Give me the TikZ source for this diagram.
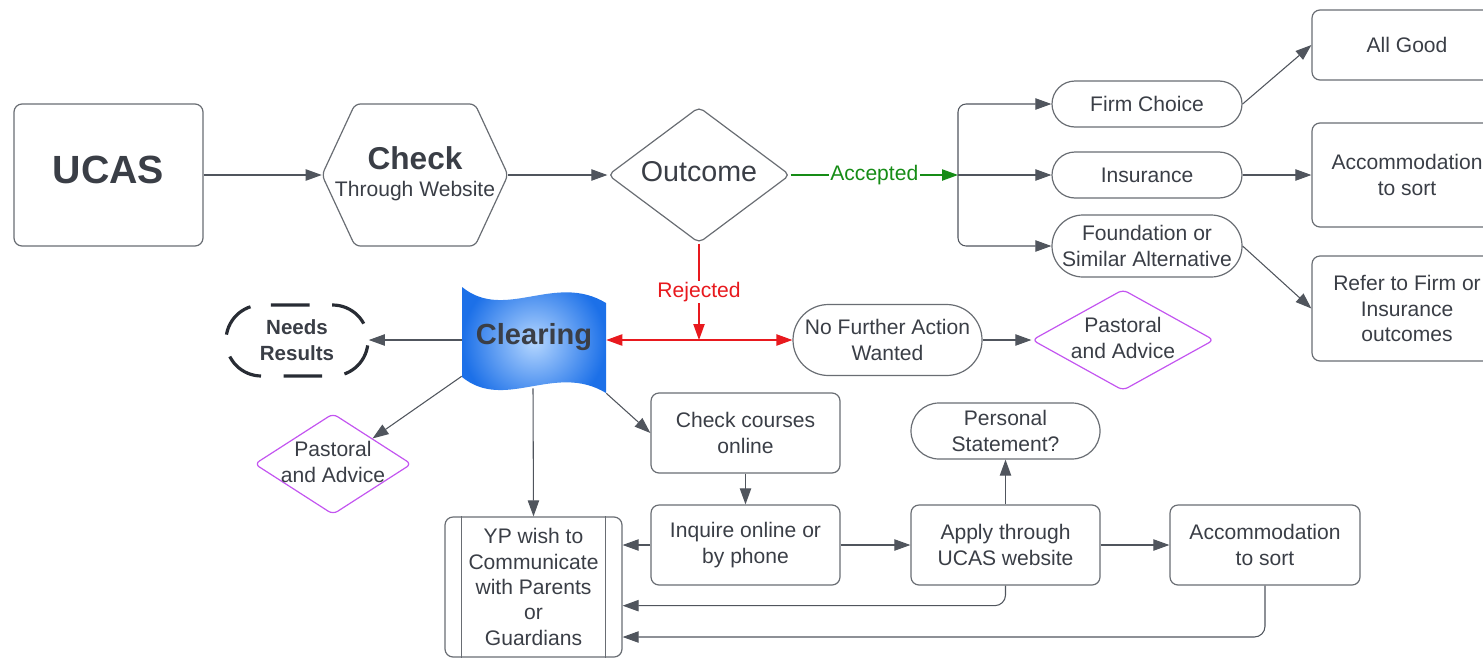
\documentclass[tikz,border=0pt]{standalone}
\usepackage{fontspec}
\setmainfont{Liberation Sans}
\usetikzlibrary{arrows.meta,shapes.geometric,calc}
\definecolor{txt}{RGB}{58,62,70}
\definecolor{ln}{RGB}{80,85,93}
\definecolor{bd}{RGB}{105,109,115}
\definecolor{grn}{RGB}{22,140,22}
\definecolor{rd}{RGB}{232,25,30}
\definecolor{prp}{RGB}{195,85,240}
\definecolor{flagin}{RGB}{180,214,255}
\definecolor{flagout}{RGB}{28,112,232}
\definecolor{dsh}{RGB}{40,44,52}
\begin{document}
\begin{tikzpicture}[x=0.75pt,y=-0.75pt,
  every node/.style={text=txt, align=center, font=\fontsize{15.8}{19}\selectfont},
  box/.style={draw=bd, line width=0.9pt, rounded corners=6pt, inner sep=1pt},
  pill/.style={draw=bd, line width=0.9pt, inner sep=0pt},
  shp/.style={inner sep=0pt},
  dia/.style={diamond, draw=prp, line width=0.9pt, rounded corners=4pt, inner sep=0pt},
  tip/.style={-{Triangle[length=12pt,width=8.5pt]}},
  conn/.style={draw=ln, line width=0.8pt, tip},
  gconn/.style={draw=grn, line width=0.9pt, -{Triangle[length=12pt,width=8.5pt]}},
  rconn/.style={draw=rd, line width=0.9pt, -{Triangle[length=12pt,width=8.5pt]}}
]
\useasboundingbox (0,0) rectangle (1483,657);

% top row
\node[box, minimum width=141.75pt, minimum height=106.5pt] (ucas) at (108.5,175) {};
\node[font=\bfseries\fontsize{29.5}{34}\selectfont] (ucasT) at (108.5,170) {UCAS};

\draw[draw=bd, line width=0.9pt, rounded corners=4pt] (322,175) -- (355,104) -- (475,104) -- (508,175) -- (475,246) -- (355,246) -- cycle;
\node[shp, minimum width=139.5pt, minimum height=106.5pt] (check) at (415,175) {};
\node (checkA) at (415,158) {\bfseries\fontsize{23.7}{27}\selectfont Check};
\node (checkB) at (415,191) {Through Website};

\node[diamond, draw=bd, line width=0.9pt, rounded corners=4pt, inner sep=0pt, minimum width=136.5pt, minimum height=102pt] (outcome) at (699,175) {};
\node[font=\fontsize{21.5}{25}\selectfont] (outcomeT) at (699,172) {Outcome};

\coordinate (acc) at (958,175);

\node[pill, rounded corners=17.25pt, minimum width=142.5pt, minimum height=34.5pt] (firm) at (1147,104) {Firm Choice};
\node[pill, rounded corners=17.25pt, minimum width=142.5pt, minimum height=34.5pt] (insurance) at (1147,175) {Insurance};
\node[pill, rounded corners=23.25pt, minimum width=142.5pt, minimum height=46.5pt] (foundation) at (1147,246) {Foundation or\\Similar Alternative};

\node[box, minimum width=142.5pt, minimum height=52.5pt] (allgood) at (1407,45) {All Good};
\node[box, minimum width=142.5pt, minimum height=78pt] (accomR) at (1407,175) {Accommodation\\to sort};
\node[box, minimum width=142.5pt, minimum height=78.75pt] (refer) at (1407,308.5) {Refer to Firm or\\Insurance\\outcomes};

% clearing flag
\shade[inner color=flagin, outer color=flagout] (462,287) .. controls (505,322) and (555,272) .. (606,303) -- (606,393) .. controls (555,362) and (505,412) .. (462,377) -- cycle;
\node[shp, minimum width=108pt, minimum height=79.5pt] (clearing) at (534,340) {};
\node[font=\bfseries\fontsize{21.8}{25}\selectfont] (clearingT) at (534,337) {Clearing};

% needs results
\node[shp, minimum width=107.25pt, minimum height=53.25pt, font=\bfseries\fontsize{15.4}{19}\selectfont] (needs) at (297,340) {Needs\\Results};
\draw[dsh, line width=2.4pt, rounded corners=26.6pt, dash pattern=on 29pt off 16.875pt, dash phase=37.44pt] (297,305) -- (226,305) -- (226,376) -- (368,376) -- (368,305) -- cycle;

\node[pill, rounded corners=26.6pt, minimum width=141.75pt, minimum height=53.25pt] (nofa) at (887.5,340) {No Further Action\\Wanted};

\node[dia, minimum width=136.5pt, minimum height=75.75pt] (pastR) at (1123,340) {};
\node (pastRT) at (1123,338) {Pastoral\\and Advice};
\node[dia, minimum width=117.75pt, minimum height=75.75pt] (pastL) at (333,464) {};
\node (pastLT) at (333,462) {Pastoral\\and Advice};

% bottom area
\node[box, minimum width=141.75pt, minimum height=60pt] (checkc) at (745.5,433) {Check courses\\online};
\node[box, minimum width=141.75pt, minimum height=60pt] (inquire) at (745.5,545) {Inquire online or\\by phone};
\node[box, minimum width=141.75pt, minimum height=60pt] (apply) at (1005.5,545) {Apply through\\UCAS website};
\node[pill, rounded corners=21pt, minimum width=141.75pt, minimum height=42pt] (personal) at (1005.5,431) {Personal\\Statement?};
\node[box, minimum width=142.5pt, minimum height=60pt] (accomB) at (1265,545) {Accommodation\\to sort};

\node[box, minimum width=132.75pt, minimum height=105pt] (yp) at (533.5,587) {YP wish to\\Communicate\\with Parents\\or\\Guardians};
\draw[draw=bd, line width=0.9pt] ([xshift=12.75pt]yp.north west) -- ([xshift=12.75pt]yp.south west);
\draw[draw=bd, line width=0.9pt] ([xshift=-12.75pt]yp.north east) -- ([xshift=-12.75pt]yp.south east);

% connectors
\draw[conn] (ucas.east) -- (check.west);
\draw[conn] (check.east) -- (outcome.west);
\draw[gconn] (outcome.east) -- node[fill=white, text=grn, inner sep=1pt] (acclbl) {Accepted} (acc);
\draw[conn] (acc) -- (insurance.west);
\draw[conn, rounded corners=6pt] (acc) |- (firm.west);
\draw[conn, rounded corners=6pt] (acc) |- (foundation.west);
\draw[conn] (firm.east) -- (allgood.west);
\draw[conn] (insurance.east) -- (accomR.west);
\draw[conn] (foundation.east) -- (refer.west);

\coordinate (rj) at (699,340);
\draw[rconn] (outcome.south) -- node[fill=white, text=rd, inner sep=1pt] (rjlbl) {Rejected} (rj);
\draw[draw=rd, line width=0.9pt, {Triangle[length=12pt,width=8.5pt]}-{Triangle[length=12pt,width=8.5pt]}] (clearing.east |- rj) -- (nofa.west);

\draw[conn] (clearing.west) -- (needs.east);
\draw[conn] (nofa.east) -- (pastR.west);
\draw[conn] ($(clearing.south west)+(0,-17)$) -- (pastL.north east);
\draw[conn] ($(clearing.south)+(-1,-5)$) -- (yp.north);
\draw[conn] (clearing.south east) -- (checkc.west);
\draw[conn] (checkc.south) -- (inquire.north);
\draw[conn] (inquire.west) -- (yp.east |- inquire.west);
\draw[conn] (inquire.east) -- (apply.west);
\draw[conn] (apply.north) -- (personal.south);
\draw[conn] (apply.east) -- (accomB.west);
\draw[conn, rounded corners=8pt] (apply.south) |- ([yshift=-14pt]yp.east);
\draw[conn, rounded corners=8pt] (accomB.south) |- ([yshift=-37.5pt]yp.east);
\end{tikzpicture}
\end{document}
